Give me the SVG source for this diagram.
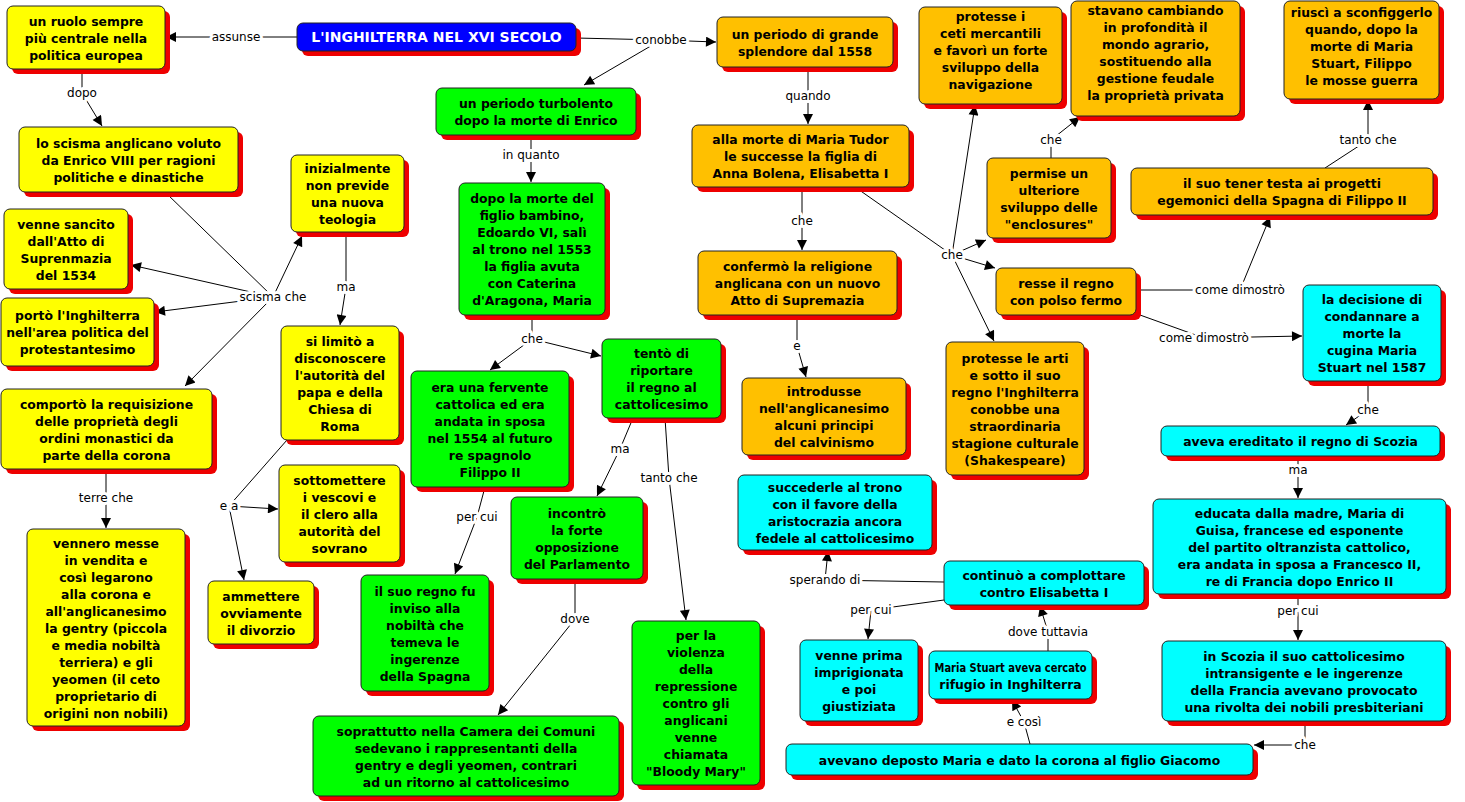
<svg xmlns="http://www.w3.org/2000/svg" width="1465" height="802" viewBox="0 0 1465 802">
<style>
.n rect.s{fill:#e00}
.n rect.b{stroke:#222;stroke-width:1}
.y rect.b{fill:#ffff00}.g rect.b{fill:#00ff00}.o rect.b{fill:#ffc000}.c rect.b{fill:#00ffff}.t rect.b{fill:#0000ff}
.n text{font-family:"DejaVu Sans",Verdana,sans-serif;font-weight:bold;font-size:12.4px;text-anchor:middle;fill:#000}
.t text{fill:#fff;font-size:14px}
#conn line{stroke:#000;stroke-width:1}
#conn line.a{marker-end:url(#ar)}
#conn text{font-family:"DejaVu Sans",Verdana,sans-serif;font-size:12px;text-anchor:middle;fill:#000;stroke:#fff;stroke-width:6px;paint-order:stroke;stroke-linejoin:round}
</style>
<defs><marker id="ar" viewBox="0 0 10 10" refX="10" refY="5" markerWidth="12" markerHeight="10" markerUnits="userSpaceOnUse" orient="auto"><path d="M0,0L10,5L0,10z" fill="#000"/></marker></defs>
<rect width="1465" height="802" fill="#fff"/>
<g id="conn">
<line x1="297" y1="37" x2="236" y2="37"/><line class="a" x1="236" y1="37" x2="166" y2="37"/>
<line x1="576" y1="38" x2="661" y2="40"/><line class="a" x1="661" y1="40" x2="716" y2="42"/><line class="a" x1="661" y1="40" x2="584" y2="85"/>
<line x1="82" y1="69" x2="82" y2="93"/><line class="a" x1="82" y1="93" x2="102" y2="126"/>
<line x1="165" y1="192" x2="273" y2="297"/><line class="a" x1="273" y1="297" x2="131" y2="265"/><line class="a" x1="273" y1="297" x2="155" y2="312"/><line class="a" x1="273" y1="297" x2="185" y2="386"/><line class="a" x1="273" y1="297" x2="302" y2="236"/>
<line x1="346" y1="232" x2="346" y2="287"/><line class="a" x1="346" y1="287" x2="340" y2="325"/>
<line x1="287" y1="440" x2="229" y2="506"/><line class="a" x1="229" y1="506" x2="278" y2="509"/><line class="a" x1="229" y1="506" x2="244" y2="580"/>
<line x1="106" y1="469" x2="106" y2="498"/><line class="a" x1="106" y1="498" x2="106" y2="528"/>
<line x1="531" y1="135" x2="531" y2="155"/><line class="a" x1="531" y1="155" x2="531" y2="182"/>
<line x1="532" y1="315" x2="532" y2="339"/><line class="a" x1="532" y1="339" x2="490" y2="370"/><line class="a" x1="532" y1="339" x2="601" y2="356"/>
<line x1="633" y1="418" x2="620" y2="449"/><line class="a" x1="620" y1="449" x2="597" y2="496"/>
<line x1="665" y1="418" x2="669" y2="478"/><line class="a" x1="669" y1="478" x2="686" y2="620"/>
<line x1="485" y1="487" x2="477" y2="517"/><line class="a" x1="477" y1="517" x2="455" y2="574"/>
<line x1="575" y1="579" x2="575" y2="619"/><line class="a" x1="575" y1="619" x2="498" y2="715"/>
<line x1="808" y1="67" x2="808" y2="96"/><line class="a" x1="808" y1="96" x2="808" y2="124"/>
<line x1="802" y1="187" x2="802" y2="221"/><line class="a" x1="802" y1="221" x2="802" y2="250"/>
<line x1="797" y1="315" x2="797" y2="346"/><line class="a" x1="797" y1="346" x2="806" y2="377"/>
<line x1="855" y1="187" x2="952" y2="255"/><line class="a" x1="952" y1="255" x2="975" y2="105"/><line class="a" x1="952" y1="255" x2="986" y2="240"/><line class="a" x1="952" y1="255" x2="995" y2="268"/><line class="a" x1="952" y1="255" x2="994" y2="341"/>
<line x1="1051" y1="158" x2="1051" y2="140"/><line class="a" x1="1051" y1="140" x2="1080" y2="117"/>
<line x1="1136" y1="290" x2="1240" y2="290"/><line class="a" x1="1240" y1="290" x2="1270" y2="217"/>
<line x1="1325" y1="168" x2="1368" y2="140"/><line class="a" x1="1368" y1="140" x2="1368" y2="100"/>
<line x1="1140" y1="315" x2="1204" y2="338"/><line class="a" x1="1204" y1="338" x2="1302" y2="336"/>
<line x1="1368" y1="381" x2="1368" y2="410"/><line class="a" x1="1368" y1="410" x2="1346" y2="425"/>
<line x1="1298" y1="456" x2="1298" y2="470"/><line class="a" x1="1298" y1="470" x2="1298" y2="498"/>
<line x1="1298" y1="594" x2="1298" y2="611"/><line class="a" x1="1298" y1="611" x2="1298" y2="640"/>
<line x1="1305" y1="721" x2="1305" y2="745"/><line class="a" x1="1305" y1="745" x2="1254" y2="745"/>
<line x1="1030" y1="744" x2="1024" y2="722"/><line class="a" x1="1024" y1="722" x2="1012" y2="700"/>
<line x1="1048" y1="651" x2="1048" y2="632"/><line class="a" x1="1048" y1="632" x2="1040" y2="606"/>
<line x1="944" y1="582" x2="825" y2="580"/><line class="a" x1="825" y1="580" x2="828" y2="551"/>
<line x1="944" y1="600" x2="871" y2="610"/><line class="a" x1="871" y1="610" x2="868" y2="639"/>
<text x="236" y="41">assunse</text><text x="661" y="44">conobbe</text><text x="82" y="97">dopo</text>
<text x="273" y="301">scisma che</text><text x="346" y="291">ma</text><text x="229" y="510">e a</text>
<text x="106" y="502">terre che</text><text x="531" y="159">in quanto</text><text x="532" y="343">che</text>
<text x="620" y="453">ma</text><text x="669" y="482">tanto che</text><text x="477" y="521">per cui</text>
<text x="575" y="623">dove</text><text x="808" y="100">quando</text><text x="802" y="225">che</text>
<text x="797" y="350">e</text><text x="952" y="259">che</text><text x="1051" y="144">che</text>
<text x="1240" y="294">come dimostrò</text><text x="1368" y="144">tanto che</text><text x="1204" y="342">come dimostrò</text>
<text x="1368" y="414">che</text><text x="1298" y="474">ma</text><text x="1298" y="615">per cui</text>
<text x="1305" y="749">che</text><text x="1024" y="726">e così</text><text x="1048" y="636">dove tuttavia</text>
<text x="825" y="584">sperando di</text><text x="871" y="614">per cui</text>
</g>
<g id="title" class="n t"><rect class="s" x="302" y="28" width="279" height="28" rx="6"/><rect class="b" x="297" y="23" width="279" height="28" rx="6"/><text x="436.5" y="42">L'INGHILTERRA NEL XVI SECOLO</text></g>
<g id="y1" class="n y"><rect class="s" x="12" y="11" width="158" height="63" rx="6"/><rect class="b" x="7" y="6" width="158" height="63" rx="6"/><text x="86" y="25.5">un ruolo sempre<tspan x="86" dy="17">più centrale nella</tspan><tspan x="86" dy="17">politica europea</tspan></text></g>
<g id="y2" class="n y"><rect class="s" x="24" y="132" width="219" height="65" rx="6"/><rect class="b" x="19" y="127" width="219" height="65" rx="6"/><text x="128.5" y="147.5">lo scisma anglicano voluto<tspan x="128.5" dy="17">da Enrico VIII per ragioni</tspan><tspan x="128.5" dy="17">politiche e dinastiche</tspan></text></g>
<g id="y3" class="n y"><rect class="s" x="296" y="160" width="113" height="77" rx="6"/><rect class="b" x="291" y="155" width="113" height="77" rx="6"/><text x="347.5" y="173">inizialmente<tspan x="347.5" dy="17">non previde</tspan><tspan x="347.5" dy="17">una nuova</tspan><tspan x="347.5" dy="17">teologia</tspan></text></g>
<g id="y4" class="n y"><rect class="s" x="9" y="214" width="124" height="80" rx="6"/><rect class="b" x="4" y="209" width="124" height="80" rx="6"/><text x="66" y="228.5">venne sancito<tspan x="66" dy="17">dall'Atto di</tspan><tspan x="66" dy="17">Suprenmazia</tspan><tspan x="66" dy="17">del 1534</tspan></text></g>
<g id="y5" class="n y"><rect class="s" x="6" y="303" width="153" height="68" rx="6"/><rect class="b" x="1" y="298" width="153" height="68" rx="6"/><text x="77.5" y="320">portò l'Inghilterra<tspan x="77.5" dy="17">nell'area politica del</tspan><tspan x="77.5" dy="17">protestantesimo</tspan></text></g>
<g id="y6" class="n y"><rect class="s" x="6" y="394" width="211" height="80" rx="6"/><rect class="b" x="1" y="389" width="211" height="80" rx="6"/><text x="106.5" y="408.5">comportò la requisizione<tspan x="106.5" dy="17">delle proprietà degli</tspan><tspan x="106.5" dy="17">ordini monastici da</tspan><tspan x="106.5" dy="17">parte della corona</tspan></text></g>
<g id="y7" class="n y"><rect class="s" x="286" y="331" width="118" height="114" rx="6"/><rect class="b" x="281" y="326" width="118" height="114" rx="6"/><text x="340" y="345.5">si limitò a<tspan x="340" dy="17">disconoscere</tspan><tspan x="340" dy="17">l'autorità del</tspan><tspan x="340" dy="17">papa e della</tspan><tspan x="340" dy="17">Chiesa di</tspan><tspan x="340" dy="17">Roma</tspan></text></g>
<g id="y8" class="n y"><rect class="s" x="284" y="470" width="121" height="97" rx="6"/><rect class="b" x="279" y="465" width="121" height="97" rx="6"/><text x="339.5" y="484.5">sottomettere<tspan x="339.5" dy="17">i vescovi e</tspan><tspan x="339.5" dy="17">il clero alla</tspan><tspan x="339.5" dy="17">autorità del</tspan><tspan x="339.5" dy="17">sovrano</tspan></text></g>
<g id="y9" class="n y"><rect class="s" x="213" y="586" width="106" height="63" rx="6"/><rect class="b" x="208" y="581" width="106" height="63" rx="6"/><text x="261" y="600.5">ammettere<tspan x="261" dy="17">ovviamente</tspan><tspan x="261" dy="17">il divorzio</tspan></text></g>
<g id="y10" class="n y"><rect class="s" x="32" y="534" width="158" height="197" rx="6"/><rect class="b" x="27" y="529" width="158" height="197" rx="6"/><text x="106" y="547.5">vennero messe<tspan x="106" dy="17">in vendita e</tspan><tspan x="106" dy="17">così legarono</tspan><tspan x="106" dy="17">alla corona e</tspan><tspan x="106" dy="17">all'anglicanesimo</tspan><tspan x="106" dy="17">la gentry (piccola</tspan><tspan x="106" dy="17">e media nobiltà</tspan><tspan x="106" dy="17">terriera) e gli</tspan><tspan x="106" dy="17">yeomen (il ceto</tspan><tspan x="106" dy="17">proprietario di</tspan><tspan x="106" dy="17">origini non nobili)</tspan></text></g>
<g id="g1" class="n g"><rect class="s" x="441" y="93" width="200" height="47" rx="6"/><rect class="b" x="436" y="88" width="200" height="47" rx="6"/><text x="536" y="108">un periodo turbolento<tspan x="536" dy="17">dopo la morte di Enrico</tspan></text></g>
<g id="g2" class="n g"><rect class="s" x="464" y="188" width="146" height="132" rx="6"/><rect class="b" x="459" y="183" width="146" height="132" rx="6"/><text x="532" y="203">dopo la morte del<tspan x="532" dy="17">figlio bambino,</tspan><tspan x="532" dy="17">Edoardo VI, salì</tspan><tspan x="532" dy="17">al trono nel 1553</tspan><tspan x="532" dy="17">la figlia avuta</tspan><tspan x="532" dy="17">con Caterina</tspan><tspan x="532" dy="17">d'Aragona, Maria</tspan></text></g>
<g id="g3" class="n g"><rect class="s" x="416" y="376" width="158" height="116" rx="6"/><rect class="b" x="411" y="371" width="158" height="116" rx="6"/><text x="490" y="391.5">era una fervente<tspan x="490" dy="17">cattolica ed era</tspan><tspan x="490" dy="17">andata in sposa</tspan><tspan x="490" dy="17">nel 1554 al futuro</tspan><tspan x="490" dy="17">re spagnolo</tspan><tspan x="490" dy="17">Filippo II</tspan></text></g>
<g id="g4" class="n g"><rect class="s" x="607" y="344" width="119" height="79" rx="6"/><rect class="b" x="602" y="339" width="119" height="79" rx="6"/><text x="661.5" y="358">tentò di<tspan x="661.5" dy="17">riportare</tspan><tspan x="661.5" dy="17">il regno al</tspan><tspan x="661.5" dy="17">cattolicesimo</tspan></text></g>
<g id="g5" class="n g"><rect class="s" x="516" y="502" width="132" height="82" rx="6"/><rect class="b" x="511" y="497" width="132" height="82" rx="6"/><text x="577" y="517.5">incontrò<tspan x="577" dy="17">la forte</tspan><tspan x="577" dy="17">opposizione</tspan><tspan x="577" dy="17">del Parlamento</tspan></text></g>
<g id="g6" class="n g"><rect class="s" x="366" y="580" width="128" height="116" rx="6"/><rect class="b" x="361" y="575" width="128" height="116" rx="6"/><text x="425" y="595.5">il suo regno fu<tspan x="425" dy="17">inviso alla</tspan><tspan x="425" dy="17">nobiltà che</tspan><tspan x="425" dy="17">temeva le</tspan><tspan x="425" dy="17">ingerenze</tspan><tspan x="425" dy="17">della Spagna</tspan></text></g>
<g id="g7" class="n g"><rect class="s" x="637" y="626" width="128" height="164" rx="6"/><rect class="b" x="632" y="621" width="128" height="164" rx="6"/><text x="696" y="640">per la<tspan x="696" dy="17">violenza</tspan><tspan x="696" dy="17">della</tspan><tspan x="696" dy="17">repressione</tspan><tspan x="696" dy="17">contro gli</tspan><tspan x="696" dy="17">anglicani</tspan><tspan x="696" dy="17">venne</tspan><tspan x="696" dy="17">chiamata</tspan><tspan x="696" dy="17">"Bloody Mary"</tspan></text></g>
<g id="g8" class="n g"><rect class="s" x="318" y="721" width="306" height="80" rx="6"/><rect class="b" x="313" y="716" width="306" height="80" rx="6"/><text x="466" y="735.5">soprattutto nella Camera dei Comuni<tspan x="466" dy="17">sedevano i rappresentanti della</tspan><tspan x="466" dy="17">gentry e degli yeomen, contrari</tspan><tspan x="466" dy="17">ad un ritorno al cattolicesimo</tspan></text></g>
<g id="o1" class="n o"><rect class="s" x="722" y="22" width="176" height="50" rx="6"/><rect class="b" x="717" y="17" width="176" height="50" rx="6"/><text x="805" y="38.5">un periodo di grande<tspan x="805" dy="17">splendore dal 1558</tspan></text></g>
<g id="o2" class="n o"><rect class="s" x="697" y="130" width="217" height="62" rx="6"/><rect class="b" x="692" y="125" width="217" height="62" rx="6"/><text x="800.5" y="144">alla morte di Maria Tudor<tspan x="800.5" dy="17">le successe la figlia di</tspan><tspan x="800.5" dy="17">Anna Bolena, Elisabetta I</tspan></text></g>
<g id="o3" class="n o"><rect class="s" x="703" y="256" width="199" height="64" rx="6"/><rect class="b" x="698" y="251" width="199" height="64" rx="6"/><text x="797.5" y="271">confermò la religione<tspan x="797.5" dy="17">anglicana con un nuovo</tspan><tspan x="797.5" dy="17">Atto di Supremazia</tspan></text></g>
<g id="o4" class="n o"><rect class="s" x="747" y="383" width="164" height="77" rx="6"/><rect class="b" x="742" y="378" width="164" height="77" rx="6"/><text x="824" y="396">introdusse<tspan x="824" dy="17">nell'anglicanesimo</tspan><tspan x="824" dy="17">alcuni principi</tspan><tspan x="824" dy="17">del calvinismo</tspan></text></g>
<g id="o5" class="n o"><rect class="s" x="924" y="12" width="143" height="97" rx="6"/><rect class="b" x="919" y="7" width="143" height="97" rx="6"/><text x="990.5" y="21">protesse i<tspan x="990.5" dy="17">ceti mercantili</tspan><tspan x="990.5" dy="17">e favorì un forte</tspan><tspan x="990.5" dy="17">sviluppo della</tspan><tspan x="990.5" dy="17">navigazione</tspan></text></g>
<g id="o6" class="n o"><rect class="s" x="1076" y="6" width="169" height="115" rx="6"/><rect class="b" x="1071" y="1" width="169" height="115" rx="6"/><text x="1155.5" y="15">stavano cambiando<tspan x="1155.5" dy="17">in profondità il</tspan><tspan x="1155.5" dy="17">mondo agrario,</tspan><tspan x="1155.5" dy="17">sostituendo alla</tspan><tspan x="1155.5" dy="17">gestione feudale</tspan><tspan x="1155.5" dy="17">la proprietà privata</tspan></text></g>
<g id="o7" class="n o"><rect class="s" x="992" y="163" width="124" height="80" rx="6"/><rect class="b" x="987" y="158" width="124" height="80" rx="6"/><text x="1049" y="177.5">permise un<tspan x="1049" dy="17">ulteriore</tspan><tspan x="1049" dy="17">sviluppo delle</tspan><tspan x="1049" dy="17">"enclosures"</tspan></text></g>
<g id="o8" class="n o"><rect class="s" x="1001" y="273" width="140" height="47" rx="6"/><rect class="b" x="996" y="268" width="140" height="47" rx="6"/><text x="1066" y="288">resse il regno<tspan x="1066" dy="17">con polso fermo</tspan></text></g>
<g id="o9" class="n o"><rect class="s" x="951" y="347" width="138" height="133" rx="6"/><rect class="b" x="946" y="342" width="138" height="133" rx="6"/><text x="1015" y="362.5">protesse le arti<tspan x="1015" dy="17">e sotto il suo</tspan><tspan x="1015" dy="17">regno l'Inghilterra</tspan><tspan x="1015" dy="17">conobbe una</tspan><tspan x="1015" dy="17">straordinaria</tspan><tspan x="1015" dy="17">stagione culturale</tspan><tspan x="1015" dy="17">(Shakespeare)</tspan></text></g>
<g id="o10" class="n o"><rect class="s" x="1136" y="173" width="302" height="47" rx="6"/><rect class="b" x="1131" y="168" width="302" height="47" rx="6"/><text x="1282" y="188">il suo tener testa ai progetti<tspan x="1282" dy="17">egemonici della Spagna di Filippo II</tspan></text></g>
<g id="o11" class="n o"><rect class="s" x="1289" y="6" width="155" height="98" rx="6"/><rect class="b" x="1284" y="1" width="155" height="98" rx="6"/><text x="1361.5" y="17">riuscì a sconfiggerlo<tspan x="1361.5" dy="17">quando, dopo la</tspan><tspan x="1361.5" dy="17">morte di Maria</tspan><tspan x="1361.5" dy="17">Stuart, Filippo</tspan><tspan x="1361.5" dy="17">le mosse guerra</tspan></text></g>
<g id="c1" class="n c"><rect class="s" x="1308" y="290" width="138" height="96" rx="6"/><rect class="b" x="1303" y="285" width="138" height="96" rx="6"/><text x="1372" y="304">la decisione di<tspan x="1372" dy="17">condannare a</tspan><tspan x="1372" dy="17">morte la</tspan><tspan x="1372" dy="17">cugina Maria</tspan><tspan x="1372" dy="17">Stuart nel 1587</tspan></text></g>
<g id="c2" class="n c"><rect class="s" x="1166" y="431" width="279" height="30" rx="6"/><rect class="b" x="1161" y="426" width="279" height="30" rx="6"/><text x="1300.5" y="446">aveva ereditato il regno di Scozia</text></g>
<g id="c3" class="n c"><rect class="s" x="1158" y="504" width="293" height="95" rx="6"/><rect class="b" x="1153" y="499" width="293" height="95" rx="6"/><text x="1299.5" y="517.5">educata dalla madre, Maria di<tspan x="1299.5" dy="17">Guisa, francese ed esponente</tspan><tspan x="1299.5" dy="17">del partito oltranzista cattolico,</tspan><tspan x="1299.5" dy="17">era andata in sposa a Francesco II,</tspan><tspan x="1299.5" dy="17">re di Francia dopo Enrico II</tspan></text></g>
<g id="c4" class="n c"><rect class="s" x="1167" y="646" width="284" height="80" rx="6"/><rect class="b" x="1162" y="641" width="284" height="80" rx="6"/><text x="1304" y="660.5">in Scozia il suo cattolicesimo<tspan x="1304" dy="17">intransigente e le ingerenze</tspan><tspan x="1304" dy="17">della Francia avevano provocato</tspan><tspan x="1304" dy="17">una rivolta dei nobili presbiteriani</tspan></text></g>
<g id="c5" class="n c"><rect class="s" x="791" y="749" width="467" height="31" rx="6"/><rect class="b" x="786" y="744" width="467" height="31" rx="6"/><text x="1019.5" y="764.5">avevano deposto Maria e dato la corona al figlio Giacomo</text></g>
<g id="c6" class="n c"><rect class="s" x="934" y="656" width="163" height="48" rx="6"/><rect class="b" x="929" y="651" width="163" height="48" rx="6"/><text x="1010.5" y="671.5" textLength="152" lengthAdjust="spacingAndGlyphs">Maria Stuart aveva cercato</text><text x="1010.5" y="688.5">rifugio in Inghilterra</text></g>
<g id="c7" class="n c"><rect class="s" x="949" y="566" width="200" height="44" rx="6"/><rect class="b" x="944" y="561" width="200" height="44" rx="6"/><text x="1044" y="579.5">continuò a complottare<tspan x="1044" dy="17">contro Elisabetta I</tspan></text></g>
<g id="c8" class="n c"><rect class="s" x="743" y="480" width="194" height="75" rx="6"/><rect class="b" x="738" y="475" width="194" height="75" rx="6"/><text x="835" y="492">succederle al trono<tspan x="835" dy="17">con il favore della</tspan><tspan x="835" dy="17">aristocrazia ancora</tspan><tspan x="835" dy="17">fedele al cattolicesimo</tspan></text></g>
<g id="c9" class="n c"><rect class="s" x="805" y="645" width="118" height="81" rx="6"/><rect class="b" x="800" y="640" width="118" height="81" rx="6"/><text x="859" y="660">venne prima<tspan x="859" dy="17">imprigionata</tspan><tspan x="859" dy="17">e poi</tspan><tspan x="859" dy="17">giustiziata</tspan></text></g>
</svg>
